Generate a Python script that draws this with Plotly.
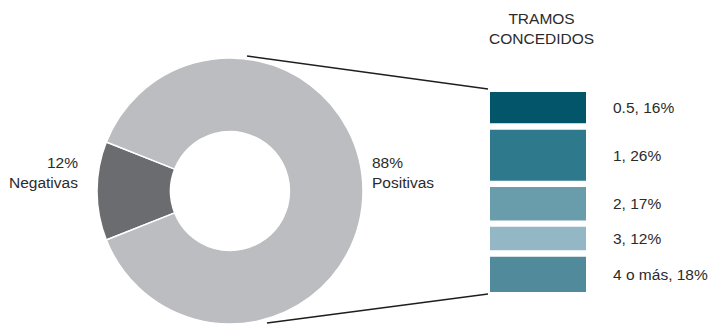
import plotly.graph_objects as go

W, H = 711, 324

# Donut data
pie_labels = ["Negativas", "Positivas"]
pie_values = [12, 88]
pie_colors = ["#6B6C70", "#BCBDC0"]

# Bar data (tramos concedidos)
tramo_labels = ["0.5", "1", "2", "3", "4 o más"]
tramo_values = [16, 26, 17, 12, 18]
tramo_colors = ["#03566A", "#2F798C", "#699DAC", "#93B7C4", "#518A9A"]

GAP = 3.3
FONT = "Liberation Sans, Arial, sans-serif"
TXT = "#2B2B2B"
FS = 15.5

fig = go.Figure()

# Donut
neg_share = pie_values[0] / sum(pie_values)
fig.add_trace(go.Pie(
    labels=pie_labels, values=pie_values, hole=0.447, sort=False,
    direction="clockwise", rotation=270 - 360 * neg_share / 2,
    marker=dict(colors=pie_colors, line=dict(color="white", width=1.5)),
    textinfo="none", showlegend=False,
    domain=dict(x=[97 / W, 363 / W], y=[0, 266 / H]),
))

# Stacked bars with gaps
bases = []
acc = 0
for v in tramo_values:
    bases.append(acc)
    acc += v + GAP
total = acc - GAP
centers = [b + v / 2 for b, v in zip(bases, tramo_values)]

fig.add_trace(go.Bar(
    x=[0] * len(tramo_values), y=tramo_values, base=bases, width=1,
    marker=dict(color=tramo_colors, line=dict(width=0)),
    xaxis="x", yaxis="y", showlegend=False, hoverinfo="skip",
))

for lab, v, c in zip(tramo_labels, tramo_values, centers):
    fig.add_annotation(
        x=611 / W, xref="paper", y=c, yref="y", xanchor="left", yanchor="middle",
        text=f"{lab}, {v}%", showarrow=False,
        font=dict(family=FONT, size=FS, color=TXT),
    )

# Pie labels
fig.add_annotation(x=80 / W, y=1 - 172 / H, xref="paper", yref="paper",
                   xanchor="right", yanchor="middle", align="right",
                   text=f"{pie_values[0]}%<br>{pie_labels[0]}", showarrow=False,
                   font=dict(family=FONT, size=FS, color=TXT))
fig.add_annotation(x=370 / W, y=1 - 172 / H, xref="paper", yref="paper",
                   xanchor="left", yanchor="middle", align="left",
                   text=f"{pie_values[1]}%<br>{pie_labels[1]}", showarrow=False,
                   font=dict(family=FONT, size=FS, color=TXT))

# Title of bar block
fig.add_annotation(x=541 / W, y=1 - 29 / H, xref="paper", yref="paper",
                   xanchor="center", yanchor="middle", align="center",
                   text="TRAMOS<br>CONCEDIDOS", showarrow=False,
                   font=dict(family=FONT, size=FS, color=TXT))

# Connector lines
line_style = dict(color="#1E1E1E", width=1.5)
fig.add_shape(type="line", xref="paper", yref="paper",
              x0=247 / W, y0=1 - 56 / H, x1=488 / W, y1=1 - 89 / H, line=line_style)
fig.add_shape(type="line", xref="paper", yref="paper",
              x0=267 / W, y0=1 - 323 / H, x1=488 / W, y1=1 - 294 / H, line=line_style)

fig.update_layout(
    width=W, height=H, margin=dict(l=0, r=0, t=0, b=0),
    paper_bgcolor="white", plot_bgcolor="white",
    xaxis=dict(domain=[490 / W, 586 / W], range=[-0.5, 0.5], visible=False, fixedrange=True),
    yaxis=dict(domain=[32 / H, 232 / H], range=[total, 0], visible=False, fixedrange=True),
    barmode="overlay",
)

fig.write_html(
    "out.html",
    config={"displayModeBar": False},
    post_script="document.body.style.margin='0';document.body.style.overflow='hidden';",
)
